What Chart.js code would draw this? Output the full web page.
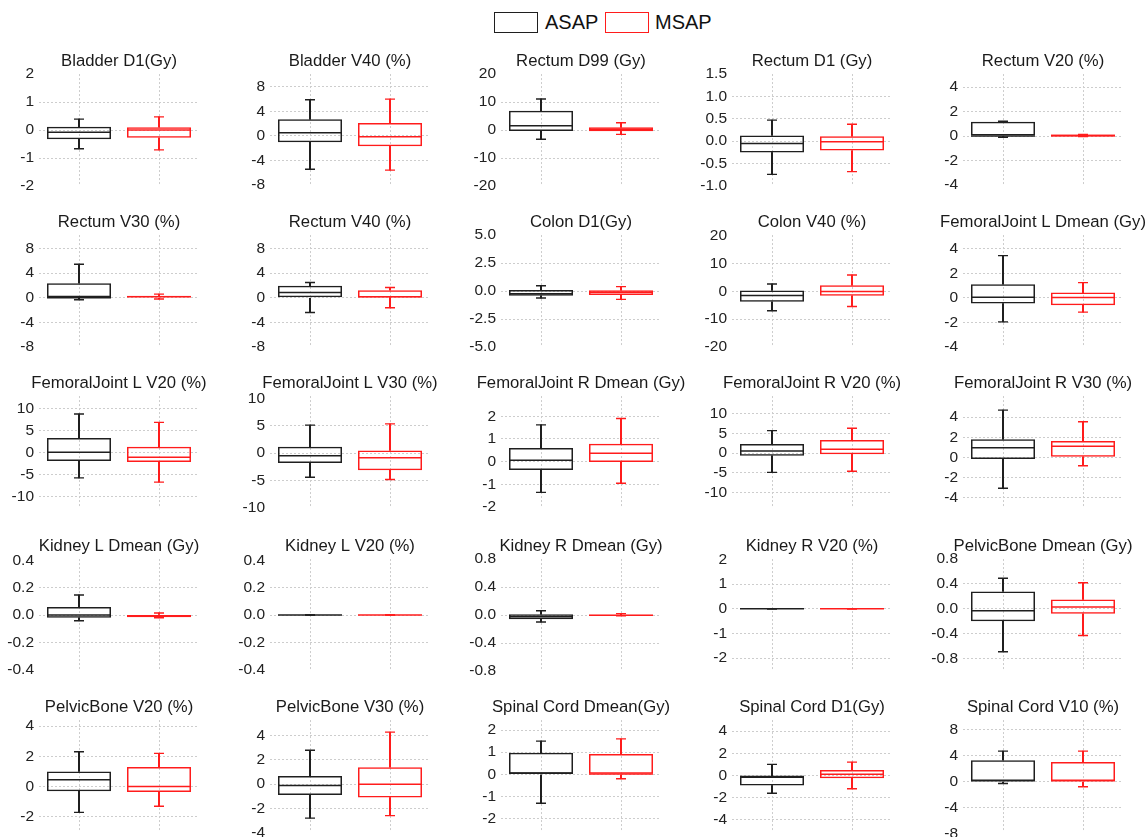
<!DOCTYPE html>
<html>
<head>
<meta charset="utf-8">
<script src="https://cdn.jsdelivr.net/npm/chart.js@4.4.0/dist/chart.umd.min.js"></script>
<style>
  html, body { margin: 0; padding: 0; background: #fff; overflow: hidden; width: 1146px; height: 837px; }
  #wrap { position: relative; width: 1146px; height: 837px; }
  canvas.panel { position: absolute; }
  .key { position: absolute; box-sizing: border-box; border: 1.5px solid; width: 44px; height: 21px; top: 12px; }
  .keytext { position: absolute; top: 9px; font-family: "Liberation Sans", Arial, sans-serif; font-size: 20px; color: #111; line-height: 26px; }
</style>
</head>
<body>
<div id="wrap">
  <div class="key" style="left:494px;border-color:#1f1f1f"></div>
  <div class="keytext" style="left:545px">ASAP</div>
  <div class="key" style="left:605px;border-color:#ff1c1c"></div>
  <div class="keytext" style="left:655px">MSAP</div>
</div>
<script>
// Groups compared in every panel
const groups = ['ASAP', 'MSAP'];
const groupColors = ['#1f1f1f', '#ff1c1c'];

// One entry per panel, read row by row
const panelTitles = [
  'Bladder D1(Gy)', 'Bladder V40 (%)', 'Rectum D99 (Gy)', 'Rectum D1 (Gy)', 'Rectum V20 (%)',
  'Rectum V30 (%)', 'Rectum V40 (%)', 'Colon D1(Gy)', 'Colon V40 (%)', 'FemoralJoint L Dmean (Gy)',
  'FemoralJoint L V20 (%)', 'FemoralJoint L V30 (%)', 'FemoralJoint R Dmean (Gy)', 'FemoralJoint R V20 (%)', 'FemoralJoint R V30 (%)',
  'Kidney L Dmean (Gy)', 'Kidney L V20 (%)', 'Kidney R Dmean (Gy)', 'Kidney R V20 (%)', 'PelvicBone Dmean (Gy)',
  'PelvicBone V20 (%)', 'PelvicBone V30 (%)', 'Spinal Cord Dmean(Gy)', 'Spinal Cord D1(Gy)', 'Spinal Cord V10 (%)'
];

// Box statistics: [lower whisker, Q1, median, Q3, upper whisker]
const asapStats = [
  [-0.67, -0.33, -0.08, 0.12, 0.39],
  [-5.45, -1.03, 0.5, 2.7, 5.9],
  [-3.3, -0.36, 1.55, 6.9, 11.1],
  [-0.74, -0.25, -0.05, 0.13, 0.47],
  [-0.1, 0, 0, 1.17, 1.2],
  [-0.32, 0, 0, 2.38, 5.46],
  [-2.38, 0, 0.86, 1.95, 2.48],
  [-0.63, -0.42, -0.24, 0.09, 0.47],
  [-7.0, -3.75, -1.45, 0.36, 2.7],
  [-1.95, -0.46, 0.06, 1.11, 3.44],
  [-5.75, -1.9, 0.08, 3.34, 8.8],
  [-4.4, -1.82, -0.49, 1.15, 5.1],
  [-1.35, -0.37, 0.06, 0.6, 1.62],
  [-4.9, -0.68, 0.5, 2.28, 5.65],
  [-3.08, -0.17, 0.96, 1.79, 4.7],
  [-0.042, -0.02, 0.0, 0.059, 0.147],
  [0, 0, 0, 0, 0],
  [-0.1, -0.06, -0.025, 0.01, 0.06],
  [0, 0, 0, 0, 0],
  [-0.69, -0.2, -0.03, 0.28, 0.49],
  [-1.7, -0.3, 0.45, 1.0, 2.3],
  [-2.8, -0.9, -0.1, 0.67, 2.8],
  [-1.3, 0.0, 0.05, 0.97, 1.5],
  [-1.6, -0.9, -0.1, -0.1, 1.0],
  [-0.3, 0, 0.1, 3.3, 4.7]
];
const msapStats = [
  [-0.71, -0.28, 0.0, 0.10, 0.47],
  [-5.6, -1.7, -0.16, 2.1, 6.0],
  [-1.55, -0.48, 0.24, 0.95, 2.6],
  [-0.68, -0.21, -0.01, 0.11, 0.38],
  [-0.05, -0.05, 0.05, 0.12, 0.12],
  [-0.2, 0, 0.15, 0.35, 0.6],
  [-1.62, 0.05, 0.16, 1.24, 1.68],
  [-0.75, -0.36, -0.1, 0.06, 0.39],
  [-5.45, -1.55, 0, 2.2, 5.95],
  [-1.16, -0.6, 0.03, 0.43, 1.24],
  [-6.7, -2.1, -1.05, 1.36, 6.9],
  [-4.8, -3.1, -0.85, 0.49, 5.33],
  [-0.95, -0.01, 0.37, 0.79, 1.9],
  [-4.6, -0.33, 0.93, 3.3, 6.25],
  [-0.83, 0.06, 1.1, 1.62, 3.54],
  [-0.02, -0.017, -0.005, 0.0, 0.015],
  [0, 0, 0, 0, 0],
  [-0.01, -0.008, -0.002, 0.004, 0.02],
  [0, 0, 0, 0, 0],
  [-0.43, -0.08, 0.03, 0.15, 0.42],
  [-1.3, -0.35, 0.0, 1.3, 2.2],
  [-2.6, -1.1, 0.0, 1.4, 4.3],
  [-0.2, 0.0, 0.02, 0.92, 1.6],
  [-1.2, -0.25, 0.1, 0.5, 1.2],
  [-0.8, 0, 0.1, 3.0, 4.7]
];

// y-axis limits [min, max] per panel
const yLimits = [
  [-2, 2], [-8.2, 10.1], [-20, 20], [-1.0, 1.5], [-4.08, 5.06],
  [-8, 10.2], [-8, 10.2], [-5, 5], [-20.1, 20.4], [-4, 5.12],
  [-12.6, 12.9], [-10, 10.4], [-2.04, 2.89], [-13.9, 14.4], [-5.04, 6.1],
  [-0.41, 0.41], [-0.41, 0.41], [-0.8, 0.8], [-2.52, 2.01], [-1.0, 0.8],
  [-3.0, 4.4], [-3.95, 5.3], [-2.6, 2.45], [-5.1, 5.0], [-7.8, 9.5]
];

// y-axis tick labels per panel
const yTickLabels = [
  ['-2', '-1', '0', '1', '2'],
  ['-8', '-4', '0', '4', '8'],
  ['-20', '-10', '0', '10', '20'],
  ['-1.0', '-0.5', '0.0', '0.5', '1.0', '1.5'],
  ['-4', '-2', '0', '2', '4'],
  ['-8', '-4', '0', '4', '8'],
  ['-8', '-4', '0', '4', '8'],
  ['-5.0', '-2.5', '0.0', '2.5', '5.0'],
  ['-20', '-10', '0', '10', '20'],
  ['-4', '-2', '0', '2', '4'],
  ['-10', '-5', '0', '5', '10'],
  ['-10', '-5', '0', '5', '10'],
  ['-2', '-1', '0', '1', '2'],
  ['-10', '-5', '0', '5', '10'],
  ['-4', '-2', '0', '2', '4'],
  ['-0.4', '-0.2', '0.0', '0.2', '0.4'],
  ['-0.4', '-0.2', '0.0', '0.2', '0.4'],
  ['-0.8', '-0.4', '0.0', '0.4', '0.8'],
  ['-2', '-1', '0', '1', '2'],
  ['-0.8', '-0.4', '0.0', '0.4', '0.8'],
  ['-2', '0', '2', '4'],
  ['-4', '-2', '0', '2', '4'],
  ['-2', '-1', '0', '1', '2'],
  ['-4', '-2', '0', '2', '4'],
  ['-8', '-4', '0', '4', '8']
];

// Grid layout of the small multiples
const FONT = '"Liberation Sans", Arial, Helvetica, sans-serif';
const GRID = '#cdcdcd';
const AXIS_W = 38;
const PLOT_W = 160;
const PLOT_H = 112;
const TITLE_PAD_TOP = 7;
const TITLE_PAD_BOTTOM = 3;
const TITLE_SIZE = 16.7;
const TITLE_BLOCK = TITLE_PAD_TOP + TITLE_PAD_BOTTOM + TITLE_SIZE * 1.2;
const BOTTOM_PAD = 15;
const colPlotLeft = [39, 270, 501, 732, 963];
const rowPlotTop = [74, 235, 396, 559, 720];
const BOX_FRACTION = 0.8;

const wrap = document.getElementById('wrap');

function makePanel(i) {
  const col = i % 5, row = Math.floor(i / 5);
  const W = AXIS_W + PLOT_W + AXIS_W;
  const H = TITLE_BLOCK + PLOT_H + BOTTOM_PAD;
  const canvas = document.createElement('canvas');
  canvas.className = 'panel';
  canvas.width = W; canvas.height = Math.round(H);
  canvas.style.width = W + 'px'; canvas.style.height = Math.round(H) + 'px';
  canvas.style.left = (colPlotLeft[col] - AXIS_W) + 'px';
  canvas.style.top = (rowPlotTop[row] - TITLE_BLOCK) + 'px';
  wrap.appendChild(canvas);

  const a = asapStats[i], m = msapStats[i];
  const pick = k => [a[k], m[k]];
  const span = (k1, k2) => [[a[k1], a[k2]], [m[k1], m[k2]]];
  const labels = yTickLabels[i];
  const medianRadius = PLOT_W / 2 * BOX_FRACTION / 2;

  const whisker = (k1, k2) => ({
    type: 'bar', data: span(k1, k2), grouped: false,
    backgroundColor: groupColors, borderWidth: 0, barThickness: 1.4, order: 3
  });
  const tick = (k, r, w) => ({
    type: 'line', data: pick(k), showLine: false, pointStyle: 'line',
    pointRadius: r, pointHoverRadius: r, pointBorderColor: groupColors,
    pointBorderWidth: w, order: 1
  });

  new Chart(canvas, {
    data: {
      labels: groups,
      datasets: [
        tick(2, medianRadius, 1.5),
        tick(0, 5, 1.4),
        tick(4, 5, 1.4),
        {
          type: 'bar', data: span(1, 3), grouped: false,
          backgroundColor: 'rgba(0,0,0,0)', borderColor: groupColors,
          borderWidth: 1.5, borderSkipped: false,
          barPercentage: BOX_FRACTION, categoryPercentage: 1, order: 2
        },
        whisker(0, 1),
        whisker(3, 4)
      ]
    },
    options: {
      responsive: false,
      animation: false,
      devicePixelRatio: 1,
      events: [],
      layout: { autoPadding: false, padding: { left: 0, right: 0, top: 0, bottom: BOTTOM_PAD } },
      plugins: {
        legend: { display: false },
        tooltip: { enabled: false },
        title: {
          display: true, text: panelTitles[i], color: '#1a1a1a',
          font: { family: FONT, size: TITLE_SIZE, weight: 'normal', lineHeight: 1.2 },
          padding: { top: TITLE_PAD_TOP, bottom: TITLE_PAD_BOTTOM }
        }
      },
      scales: {
        x: {
          type: 'category', offset: true,
          border: { display: false, dash: [2, 2] },
          ticks: { display: false },
          grid: { offset: false, drawTicks: false, color: GRID, lineWidth: 1 }
        },
        y: {
          type: 'linear', position: 'left',
          min: yLimits[i][0], max: yLimits[i][1],
          afterFit: s => { s.width = AXIS_W; },
          afterBuildTicks: s => { s.ticks = labels.map(t => ({ value: parseFloat(t) })); },
          border: { display: false, dash: [2, 2] },
          ticks: {
            autoSkip: false, padding: 5, color: '#222',
            font: { family: FONT, size: 15.5 },
            callback: (v, idx) => labels[idx]
          },
          grid: {
            drawTicks: false, lineWidth: 1,
            color: ctx => {
              const s = ctx.scale;
              if (!ctx.tick || !s) return GRID;
              const px = s.getPixelForValue(ctx.tick.value);
              return (px < s.top + 4 || px > s.bottom - 4) ? 'rgba(0,0,0,0)' : GRID;
            }
          }
        },
        yRight: {
          type: 'linear', position: 'right', display: true,
          afterFit: s => { s.width = AXIS_W; },
          border: { display: false },
          ticks: { display: false },
          grid: { display: false, drawTicks: false }
        }
      }
    }
  });
}

for (let i = 0; i < panelTitles.length; i++) makePanel(i);
</script>
</body>
</html>
